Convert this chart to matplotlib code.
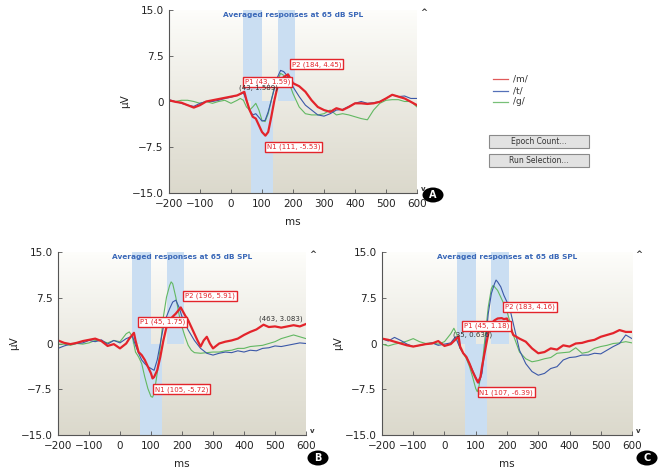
import numpy as np
import matplotlib
matplotlib.use("Agg")
import matplotlib.pyplot as plt
from matplotlib.patches import Rectangle, Circle

plt.rcParams['font.family'] = ['DejaVu Sans']

# ---------------- data ----------------
# Panel A
a_red_t = [-200,-180,-160,-140,-120,-100,-80,-60,-40,-20,0,20,43,50,60,70,80,90,100,111,120,130,140,150,160,170,184,200,220,240,260,280,300,320,340,360,380,400,420,440,460,480,500,520,540,560,580,600]
a_red_v = [0.2,-0.05,-0.2,-0.6,-1.0,-0.6,0.0,0.2,0.4,0.6,0.8,1.0,1.59,0.2,-1.4,-2.5,-2.8,-3.9,-5.0,-5.6,-5.0,-2.5,0.2,2.4,3.5,4.0,4.45,3.0,2.5,1.6,0.2,-0.9,-1.4,-1.7,-1.1,-1.4,-0.9,-0.3,-0.3,-0.4,-0.3,-0.05,0.5,1.1,0.8,0.5,-0.05,-0.6]
a_blue_t = [-200,-180,-160,-140,-120,-100,-80,-60,-40,-20,0,20,40,50,60,70,80,90,100,110,120,130,140,150,160,170,180,190,200,220,240,260,280,300,320,340,360,380,400,420,440,460,480,500,520,540,560,580,600]
a_blue_v = [0.3,0.0,-0.3,-0.6,-0.8,-0.3,0.0,0.0,0.2,0.5,0.7,1.0,1.4,0.2,-1.4,-2.2,-2.0,-2.6,-3.2,-3.1,-1.7,0.2,2.1,4.0,5.1,4.9,4.3,3.5,2.4,0.8,-0.6,-1.4,-2.2,-2.4,-2.0,-1.4,-1.3,-0.8,-0.3,0.0,-0.3,-0.2,0.0,0.5,1.1,0.8,0.9,0.5,0.5]
a_green_t = [-200,-180,-160,-140,-120,-100,-80,-60,-40,-20,0,20,30,40,50,60,70,80,90,100,110,120,130,140,150,160,170,180,190,200,220,240,260,280,300,320,340,360,380,400,420,440,460,480,500,520,540,560,580,600]
a_green_v = [0.1,0.0,0.2,0.2,0.0,-0.3,0.0,-0.3,0.0,0.2,-0.3,0.2,0.5,0.2,-0.9,-1.4,-0.9,-0.3,-1.4,-3.1,-3.3,-2.0,0.2,2.4,3.5,4.6,4.3,3.5,2.7,1.3,-0.9,-2.0,-2.2,-2.2,-2.0,-1.4,-2.2,-2.0,-2.2,-2.5,-2.8,-3.0,-1.4,-0.3,0.2,0.3,0.3,0.0,0.0,-0.9]

# Panel B
b_red_t = [-200,-180,-160,-140,-120,-100,-80,-60,-40,-20,0,20,30,45,50,60,70,80,90,100,105,110,120,130,140,150,160,170,180,196,210,220,230,240,250,260,270,280,290,300,320,340,360,380,400,420,440,463,480,500,520,540,560,580,600]
b_red_v = [0.5,0.1,-0.1,0.1,0.4,0.6,0.8,0.4,-0.4,-0.1,-0.8,0.0,0.8,1.75,0.5,-1.4,-1.9,-2.7,-3.8,-4.9,-5.72,-5.5,-4.4,-2.2,0.5,2.7,3.8,4.4,4.9,5.91,4.6,3.8,2.7,1.6,0.5,-0.5,0.5,1.1,0.0,-0.8,0.0,0.3,0.5,0.8,1.4,1.9,2.3,3.08,2.7,2.8,2.6,2.8,3.0,2.8,3.2]
b_blue_t = [-200,-180,-160,-140,-120,-100,-80,-60,-40,-20,0,20,40,50,60,70,80,90,100,110,120,130,140,150,160,170,180,190,200,210,220,240,260,280,300,320,340,360,380,400,420,440,460,480,500,520,540,560,580,600]
b_blue_v = [-0.8,-0.4,-0.1,0.0,0.1,0.5,0.3,0.6,-0.1,0.5,0.1,0.8,1.2,-0.3,-1.6,-2.7,-3.3,-3.8,-4.1,-4.4,-2.7,0.0,2.7,4.4,5.7,6.8,7.1,6.0,4.4,3.3,2.2,0.5,-0.8,-1.6,-1.9,-1.6,-1.4,-1.5,-1.2,-1.4,-1.1,-1.2,-0.8,-0.7,-0.4,-0.5,-0.3,-0.1,0.1,0.0]
b_green_t = [-200,-180,-160,-140,-120,-100,-80,-60,-40,-20,0,20,30,40,50,60,70,80,90,100,105,110,120,130,140,150,160,165,170,180,190,200,210,220,230,240,260,280,300,320,340,360,380,400,420,440,460,480,500,520,540,560,580,600]
b_green_v = [-0.1,-0.1,-0.3,0.0,-0.1,0.1,0.5,0.4,0.1,0.5,0.3,1.6,1.9,1.1,-1.4,-2.2,-3.3,-5.5,-7.4,-8.7,-8.8,-8.2,-4.9,-0.5,4.4,7.6,9.5,10.1,9.8,7.6,4.9,2.7,1.1,-0.3,-1.1,-1.5,-1.6,-1.5,-1.4,-1.4,-1.2,-1.1,-0.8,-0.8,-0.5,-0.4,-0.3,0.0,0.3,0.8,1.1,1.4,1.1,0.8]

# Panel C
c_red_t = [-200,-180,-160,-140,-120,-100,-80,-60,-40,-20,0,20,35,45,50,60,70,80,90,100,107,115,120,130,140,150,160,170,183,190,200,210,220,240,260,280,300,320,340,360,380,400,420,440,460,480,500,520,540,560,580,600]
c_red_v = [0.8,0.6,0.3,0.0,-0.3,-0.5,-0.3,-0.1,0.0,0.4,-0.4,-0.1,0.64,1.18,-0.5,-1.6,-2.2,-3.3,-4.6,-5.7,-6.39,-5.5,-3.8,-1.1,1.6,3.3,3.8,4.1,4.16,4.0,4.1,2.7,1.4,0.8,0.3,-0.8,-1.6,-1.4,-0.8,-1.0,-0.3,-0.5,0.0,0.1,0.4,0.6,1.1,1.4,1.7,2.2,1.9,1.9]
c_blue_t = [-200,-180,-160,-140,-120,-100,-80,-60,-40,-20,0,20,35,50,60,70,80,90,100,110,120,130,140,150,160,165,170,180,190,200,210,220,230,240,260,280,300,320,340,360,380,400,420,440,460,480,500,520,540,560,580,600]
c_blue_v = [0.8,0.4,1.0,0.5,-0.1,-0.5,-0.3,-0.1,0.1,-0.3,-0.1,0.1,1.1,-0.8,-1.6,-2.2,-3.3,-4.4,-5.5,-6.5,-4.9,-0.5,4.9,8.2,9.8,10.4,10.1,9.3,7.9,6.8,5.5,3.3,1.1,-1.1,-3.3,-4.6,-5.2,-4.9,-4.1,-3.8,-2.7,-2.3,-2.2,-1.9,-1.9,-1.6,-1.7,-1.1,-0.5,0.0,1.4,0.8]
c_green_t = [-200,-180,-160,-140,-120,-100,-80,-60,-40,-20,0,20,30,40,50,60,70,80,90,100,105,110,120,130,140,150,155,160,170,180,190,200,210,220,240,260,280,300,320,340,360,380,400,420,440,460,480,500,520,540,560,580,600]
c_green_v = [-0.1,-0.4,-0.1,0.1,0.4,0.8,0.3,0.0,0.1,-0.1,0.3,1.6,2.5,1.4,-0.8,-1.6,-2.5,-3.8,-5.5,-7.4,-7.9,-7.1,-3.8,1.1,6.0,9.0,9.5,9.3,8.7,7.6,6.5,5.2,3.5,1.4,-1.4,-2.5,-3.0,-2.8,-2.5,-2.3,-1.6,-1.5,-1.4,-0.7,-1.6,-1.4,-0.8,-0.5,-0.3,0.0,0.1,0.3,0.1]

series_names = ['/m/', '/t/', '/g/']
y_ticks = [15.0, 7.5, 0, -7.5, -15.0]
y_ticklabels = ['15.0', '7.5', '0', '\u22127.5', '\u221215.0']
x_ticks = [-200, -100, 0, 100, 200, 300, 400, 500, 600]
x_ticklabels = ['\u2212200', '\u2212100', '0', '100', '200', '300', '400', '500', '600']
plot_title = 'Averaged responses at 65 dB SPL'

# annotations: (text, x, y, boxed)
a_notes = [('P2 (184, 4.45)', 276, 6.07, True), ('P1 (43, 1.59)', 119, 3.2, True),
           ('(43, 1.589)', 90, 2.2, False), ('N1 (111, -5.53)', 202, -7.4, True)]
b_notes = [('P2 (196, 5.91)', 290, 7.8, True), ('P1 (45, 1.75)', 137, 3.5, True),
           ('N1 (105, -5.72)', 198, -7.5, True), ('(463, 3.083)', 518, 4.1, False)]
c_notes = [('P2 (183, 4.16)', 274, 5.95, True), ('P1 (45, 1.18)', 134, 2.9, True),
           ('(35, 0.636)', 90, 1.5, False), ('N1 (107, -6.39)', 198, -8.0, True)]

RED = '#e3242b'
BLUE = '#3b58a8'
GREEN = '#62b862'

W, H = 663, 473
fig = plt.figure(figsize=(W / 100, H / 100), dpi=100)
fig.patch.set_facecolor('white')

def fx(px):
    return px / W

def fy(py):
    return 1 - py / H

grad = np.linspace(0, 1, 256).reshape(-1, 1) ** 0.9
c_top = np.array([0.995, 0.995, 0.985])
c_bot = np.array([0.86, 0.85, 0.80])

def make_panel(rect, data, notes):
    ax = fig.add_axes(rect)
    img = c_top[None, None, :] * (1 - grad[:, :, None]) + c_bot[None, None, :] * grad[:, :, None]
    ax.imshow(img, extent=[0, 1, 0, 1], transform=ax.transAxes, aspect='auto', zorder=0)
    ax.set_xlim(-200, 600)
    ax.set_ylim(-15, 15)
    band = '#cadef2'
    ax.axvspan(40, 100, ymin=0.5, ymax=1, color=band, lw=0, zorder=1)
    ax.axvspan(65, 135, ymin=0, ymax=0.5, color=band, lw=0, zorder=1)
    ax.axvspan(150, 205, ymin=0.5, ymax=1, color=band, lw=0, zorder=1)
    (rt, rv), (bt, bv), (gt, gv) = data
    ax.plot(gt, gv, color=GREEN, lw=0.8, zorder=3)
    ax.plot(bt, bv, color=BLUE, lw=0.8, zorder=3)
    ax.plot(rt, rv, color=RED, lw=1.6, zorder=4)
    for txt, x, y, boxed in notes:
        if boxed:
            ax.text(x, y, txt, ha='center', va='center', fontsize=5.0, color=RED, zorder=6,
                    bbox=dict(boxstyle='square,pad=0.25', fc='white', ec=RED, lw=1.0))
        else:
            ax.text(x, y, txt, ha='center', va='center', fontsize=5.0, color='#333333', zorder=6)
    ax.text(0.5, 0.975, plot_title, transform=ax.transAxes, ha='center', va='center',
            fontsize=5.3, color='#3a68b8', fontweight='bold', zorder=6)
    for s in ['top', 'right']:
        ax.spines[s].set_visible(False)
    for s in ['left', 'bottom']:
        ax.spines[s].set_color('#555555')
        ax.spines[s].set_linewidth(0.8)
        ax.spines[s].set_zorder(7)
    ax.set_yticks(y_ticks)
    ax.set_yticklabels(y_ticklabels)
    ax.set_xticks(x_ticks)
    ax.set_xticklabels(x_ticklabels)
    ax.tick_params(direction='in', length=3, width=0.6, color='#555555', labelsize=7.5,
                   labelcolor='#222222', pad=4)
    ax.set_xlabel('ms', fontsize=7.5, color='#222222', labelpad=6)
    ax.set_ylabel('\u03bcV', fontsize=7.5, color='#222222', labelpad=1)
    ax.text(1.025, 0.985, '^', transform=ax.transAxes, ha='center', va='center', fontsize=6,
            fontweight='bold', color='#333333')
    ax.text(1.025, 0.02, 'v', transform=ax.transAxes, ha='center', va='center', fontsize=5,
            fontweight='bold', color='#333333')
    return ax

axA = make_panel([fx(169), fy(193), fx(248), 183 / H],
                 [(a_red_t, a_red_v), (a_blue_t, a_blue_v), (a_green_t, a_green_v)], a_notes)
axB = make_panel([fx(58), fy(435), fx(248), 183 / H],
                 [(b_red_t, b_red_v), (b_blue_t, b_blue_v), (b_green_t, b_green_v)], b_notes)
axC = make_panel([fx(382), fy(435), fx(250), 183 / H],
                 [(c_red_t, c_red_v), (c_blue_t, c_blue_v), (c_green_t, c_green_v)], c_notes)

# legend for panel A
leg_colors = ['#e05a5a', '#5470b8', '#78c078']
for i, (name, col) in enumerate(zip(series_names, leg_colors)):
    yy = 79 + i * 11.5
    fig.add_artist(plt.Line2D([fx(493), fx(508)], [fy(yy), fy(yy)], color=col, lw=0.9))
    fig.text(fx(513), fy(yy), name, fontsize=6.5, color='#333333', va='center', ha='left')

# buttons
for label, top in [('Epoch Count...', 135), ('Run Selection...', 154)]:
    fig.add_artist(Rectangle((fx(489), fy(top + 13)), fx(100), 13 / H, transform=fig.transFigure,
                             fc='#e2e2e2', ec='#8a8a8a', lw=0.8))
    fig.text(fx(539), fy(top + 6.5), label, fontsize=5.5, color='#333333', ha='center', va='center')

# panel letters
for letter, cx, cy in [('A', 433, 195), ('B', 318, 458), ('C', 647, 458)]:
    fig.add_artist(Circle((fx(cx), fy(cy)), 7.5 / H, transform=fig.transFigure, fc='black', ec='none'))
    fig.text(fx(cx), fy(cy), letter, fontsize=7, color='white', fontweight='bold', ha='center', va='center')

fig.savefig('out.png', dpi=100)
